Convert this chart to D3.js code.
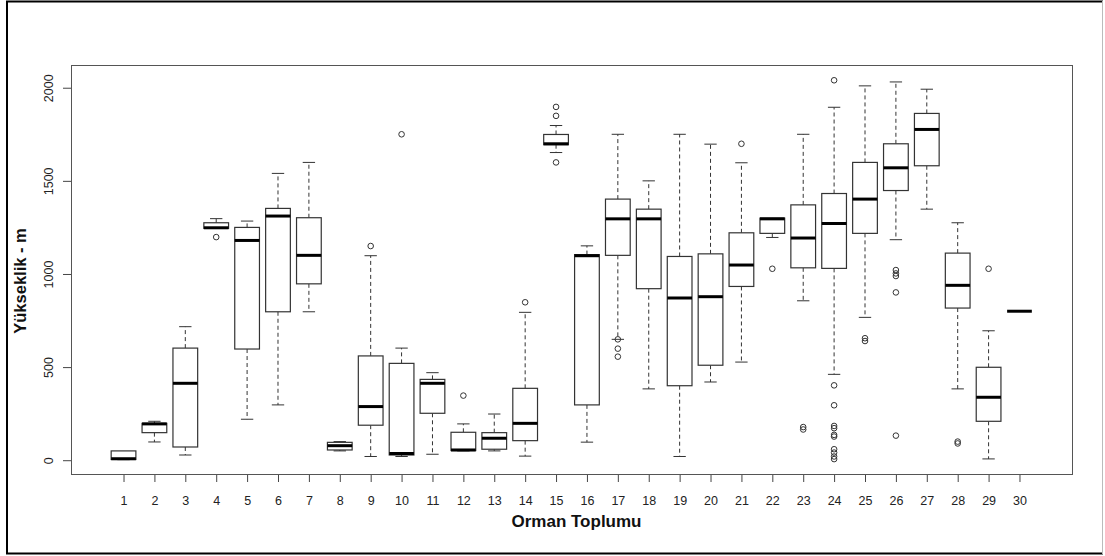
<!DOCTYPE html>
<html>
<head>
<meta charset="utf-8">
<script src="https://cdn.jsdelivr.net/npm/d3@7"></script>
<style>
  body { margin: 0; background: #fff; }
  svg { display: block; font-family: "Liberation Sans", Arial, sans-serif; }
</style>
</head>
<body>
<svg></svg>
<script>
// groups 1..30, values (m)
const groups = d3.range(1, 31);
const lowerWhisker = [3, 98, 28, 1245, 220, 297, 797, 50, 20, 20, 32, 50, 50, 22, 1652, 97, 649, 383, 20, 420, 527, 1196, 856, 461, 767, 1184, 1348, 383, 7, 800];
const q1 = [4, 148, 71, 1245, 597, 797, 947, 55, 188, 28, 252, 52, 59, 105, 1694, 297, 1100, 921, 400, 510, 933, 1218, 1033, 1030, 1218, 1448, 1581, 817, 209, 800];
const medians = [8, 195, 413, 1248, 1180, 1311, 1100, 78, 288, 36, 413, 55, 118, 198, 1699, 1098, 1296, 1296, 871, 878, 1048, 1296, 1193, 1271, 1402, 1570, 1776, 939, 338, 800];
const q3 = [50, 198, 602, 1275, 1250, 1352, 1302, 96, 560, 520, 434, 150, 148, 386, 1749, 1104, 1402, 1348, 1094, 1108, 1221, 1300, 1371, 1432, 1599, 1699, 1862, 1112, 499, 800];
const upperWhisker = [50, 209, 717, 1297, 1284, 1540, 1599, 100, 1098, 602, 470, 195, 248, 794, 1797, 1151, 1750, 1500, 1750, 1697, 1597, 1300, 1750, 1895, 2010, 2031, 1992, 1275, 695, 800];
const outliers = [
  [], [], [], [1198], [], [], [], [], [1150], [1750],
  [], [347], [], [848], [1897, 1849, 1599], [], [649, 599, 556], [], [], [],
  [1699], [1028], [165, 178], [2040, 402, 295, 184, 172, 136, 127, 59, 41, 20, 6], [640, 655], [1021, 1003, 989, 901, 132], [], [90, 100], [1028], []
];
const yTicks = [0, 500, 1000, 1500, 2000];

const svgWidth = 1105;
const svgHeight = 556;
const plot = { left: 71, right: 1072, top: 65, bottom: 474 };

const svg = d3.select("svg")
  .attr("width", svgWidth)
  .attr("height", svgHeight);

// outer frame of the image
svg.append("line").attr("x1", 7).attr("x2", 7).attr("y1", 1).attr("y2", 554)
  .attr("stroke", "#000").attr("stroke-width", 2);
svg.append("line").attr("x1", 6).attr("x2", 1103).attr("y1", 1.5).attr("y2", 1.5)
  .attr("stroke", "#000").attr("stroke-width", 2);
svg.append("line").attr("x1", 6).attr("x2", 1103).attr("y1", 553.5).attr("y2", 553.5)
  .attr("stroke", "#000").attr("stroke-width", 2);
svg.append("line").attr("x1", 1102.5).attr("x2", 1102.5).attr("y1", 1).attr("y2", 554)
  .attr("stroke", "#bbb").attr("stroke-width", 1);

const xScale = d3.scaleLinear()
  .domain([-0.7, 31.7])
  .range([plot.left, plot.right]);

const yScale = d3.scaleLinear()
  .domain([-74, 2122])
  .range([plot.bottom, plot.top]);

const unit = xScale(1) - xScale(0);
const boxW = unit * 0.8;
const capW = unit * 0.4;

// axes
const xAxis = svg.append("g")
  .attr("transform", "translate(0," + plot.bottom + ")")
  .call(d3.axisBottom(xScale).tickValues(groups).tickSize(8).tickPadding(14).tickFormat(d3.format("d")));
xAxis.select(".domain").remove();
xAxis.selectAll("line").attr("stroke", "#444");
xAxis.selectAll("text").attr("fill", "#222").attr("font-size", 12.5);

const yAxis = svg.append("g")
  .attr("transform", "translate(" + plot.left + ",0)")
  .call(d3.axisLeft(yScale).tickValues(yTicks).tickSize(8).tickFormat(d3.format("d")));
yAxis.select(".domain").remove();
yAxis.selectAll("line").attr("stroke", "#444");
yAxis.selectAll("text")
  .attr("fill", "#222")
  .attr("font-size", 12.5)
  .attr("transform", "rotate(-90)")
  .attr("x", 0)
  .attr("y", -18)
  .attr("dy", 0)
  .attr("text-anchor", "middle");

// plot box
svg.append("rect")
  .attr("x", plot.left + 0.5)
  .attr("y", plot.top + 0.5)
  .attr("width", plot.right - plot.left)
  .attr("height", plot.bottom - plot.top)
  .attr("fill", "none")
  .attr("stroke", "#555");

const data = groups.map((g, i) => ({
  g: g,
  lo: lowerWhisker[i],
  q1: q1[i],
  med: medians[i],
  q3: q3[i],
  hi: upperWhisker[i],
  out: outliers[i]
}));

const box = svg.append("g")
  .selectAll("g")
  .data(data)
  .join("g");

// dashed whiskers
box.append("line")
  .attr("x1", (d) => xScale(d.g)).attr("x2", (d) => xScale(d.g))
  .attr("y1", (d) => yScale(d.q3)).attr("y2", (d) => yScale(d.hi))
  .attr("stroke", "#333").attr("stroke-dasharray", "4,3");
box.append("line")
  .attr("x1", (d) => xScale(d.g)).attr("x2", (d) => xScale(d.g))
  .attr("y1", (d) => yScale(d.q1)).attr("y2", (d) => yScale(d.lo))
  .attr("stroke", "#333").attr("stroke-dasharray", "4,3");

// caps
box.filter((d) => d.hi > d.q3).append("line")
  .attr("x1", (d) => xScale(d.g) - capW / 2).attr("x2", (d) => xScale(d.g) + capW / 2)
  .attr("y1", (d) => yScale(d.hi)).attr("y2", (d) => yScale(d.hi))
  .attr("stroke", "#333");
box.filter((d) => d.lo < d.q1).append("line")
  .attr("x1", (d) => xScale(d.g) - capW / 2).attr("x2", (d) => xScale(d.g) + capW / 2)
  .attr("y1", (d) => yScale(d.lo)).attr("y2", (d) => yScale(d.lo))
  .attr("stroke", "#333");

// boxes
box.filter((d) => d.q3 > d.q1).append("rect")
  .attr("x", (d) => xScale(d.g) - boxW / 2)
  .attr("y", (d) => yScale(d.q3))
  .attr("width", boxW)
  .attr("height", (d) => yScale(d.q1) - yScale(d.q3))
  .attr("fill", "#fff")
  .attr("stroke", "#333")
  .attr("stroke-width", 1.2);

// medians
box.append("line")
  .attr("x1", (d) => xScale(d.g) - boxW / 2).attr("x2", (d) => xScale(d.g) + boxW / 2)
  .attr("y1", (d) => yScale(d.med)).attr("y2", (d) => yScale(d.med))
  .attr("stroke", "#000").attr("stroke-width", 3);

// outliers
box.selectAll("circle")
  .data((d) => d.out.map((v) => ({ g: d.g, v: v })))
  .join("circle")
  .attr("cx", (d) => xScale(d.g))
  .attr("cy", (d) => yScale(d.v))
  .attr("r", 2.8)
  .attr("fill", "none")
  .attr("stroke", "#333");

// axis titles
svg.append("text")
  .attr("x", (plot.left + plot.right) / 2 + 5)
  .attr("y", 527)
  .attr("text-anchor", "middle")
  .attr("font-size", 17)
  .attr("font-weight", "bold")
  .attr("fill", "#111")
  .text("Orman Toplumu");

svg.append("text")
  .attr("transform", "translate(26," + 281 + ") rotate(-90)")
  .attr("text-anchor", "middle")
  .attr("font-size", 16.5)
  .attr("font-weight", "bold")
  .attr("fill", "#111")
  .text("Yükseklik - m");
</script>
</body>
</html>
